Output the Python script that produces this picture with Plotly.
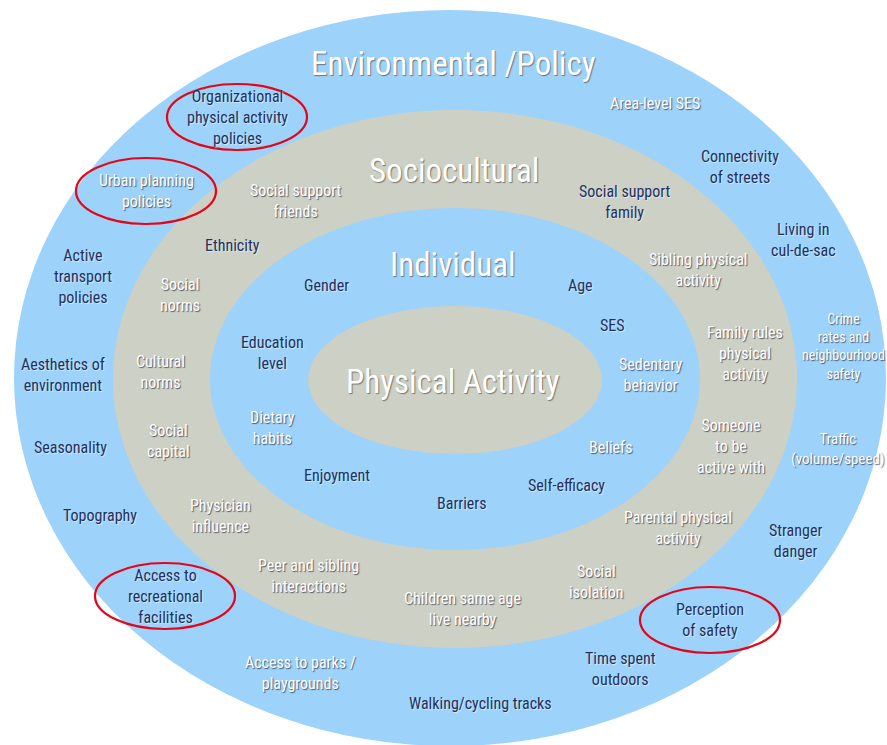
import plotly.graph_objects as go

# ---------------- data ----------------
ring_names = ["Environmental /Policy", "Sociocultural", "Individual", "Physical Activity"]

env_labels = [
    "Organizational<br>physical activity<br>policies", "Area-level SES", "Connectivity<br>of streets",
    "Living in<br>cul-de-sac", "Crime<br>rates and<br>neighbourhood<br>safety", "Traffic<br>(volume/speed)",
    "Stranger<br>danger", "Perception<br>of safety", "Time spent<br>outdoors", "Walking/cycling tracks",
    "Access to parks /<br>playgrounds", "Access to<br>recreational<br>facilities", "Topography",
    "Seasonality", "Aesthetics of<br>environment", "Active<br>transport<br>policies",
    "Urban planning<br>policies",
]
soc_labels = [
    "Social support<br>friends", "Social support<br>family", "Sibling physical<br>activity",
    "Family rules<br>physical<br>activity", "Someone<br>to be<br>active with",
    "Parental physical<br>activity", "Social<br>isolation", "Children same age<br>live nearby",
    "Peer and sibling<br>interactions", "Physician<br>influence", "Social<br>capital",
    "Cultural<br>norms", "Social<br>norms", "Ethnicity",
]
ind_labels = [
    "Gender", "Age", "SES", "Sedentary<br>behavior", "Beliefs", "Self-efficacy",
    "Barriers", "Enjoyment", "Dietary<br>habits", "Education<br>level",
]
highlighted = [
    "Organizational<br>physical activity<br>policies", "Urban planning<br>policies",
    "Access to<br>recreational<br>facilities", "Perception<br>of safety",
]

# ---------------- layout (positions / styles) ----------------
W, H = 887, 745
# ellipses: (cx, cy, rx, ry, colour)
rings_geom = [
    (450, 378, 436, 368, "#9DD2FA"),
    (455, 379, 342, 269, "#CDD0C4"),
    (455, 379, 245, 171, "#9DD2FA"),
    (455, 380, 147, 74, "#CDD0C4"),
]
title_pos = [(453, 63, 33), (454, 170, 33), (453, 264, 33), (453, 381, 33)]

env_pos = [(237, 117), (655, 103), (740, 167), (803, 240), (843, 346), (838, 449),
           (795, 541), (710, 620), (620, 669), (480, 703), (300, 673), (165, 596),
           (100, 515), (70, 447), (63, 375), (83, 276), (146, 191)]
soc_pos = [(296, 201), (625, 202), (698, 270), (745, 353), (731, 446), (678, 528),
           (596, 582), (462, 609), (308, 576), (220, 516), (168, 441), (160, 372),
           (180, 295), (232, 245)]
ind_pos = [(326, 285), (580, 285), (612, 325), (650, 375), (610, 447), (566, 485),
           (462, 503), (337, 475), (272, 428), (272, 353)]

DARK = "#1E3160"
WHITE = "white"
env_col = [DARK, WHITE, DARK, DARK, WHITE, WHITE, DARK, DARK, DARK, DARK, WHITE, DARK,
           DARK, DARK, DARK, DARK, WHITE]
soc_col = [WHITE, DARK, WHITE, WHITE, WHITE, WHITE, WHITE, WHITE, WHITE, WHITE, WHITE,
           WHITE, WHITE, DARK]
ind_col = [DARK, DARK, DARK, WHITE, WHITE, DARK, DARK, DARK, WHITE, DARK]
label_size = 16
env_size = [label_size] * len(env_labels)
env_size[4] = 14   # crime rates label near the edge
env_size[5] = 15

FONT = "Liberation Sans Narrow, Arial Narrow, Roboto Condensed, Roboto, sans-serif"

fig = go.Figure()
shapes = []
for cx, cy, rx, ry, col in rings_geom:
    shapes.append(dict(type="circle", xref="x", yref="y", x0=cx - rx, x1=cx + rx,
                       y0=cy - ry, y1=cy + ry, fillcolor=col, line=dict(width=0),
                       layer="below"))

annotations = []
for name, (x, y, s) in zip(ring_names, title_pos):
    annotations.append(dict(x=x, y=y, xref="x", yref="y", text=name, showarrow=False,
                            font=dict(family=FONT, size=s, color="white",
                                      shadow="1px 1px 1px rgba(60,60,60,0.6)")))

label_pos = {}
groups = [(env_labels, env_pos, env_col, env_size),
          (soc_labels, soc_pos, soc_col, [label_size] * len(soc_labels)),
          (ind_labels, ind_pos, ind_col, [label_size] * len(ind_labels))]
for labels, pos, cols, sizes in groups:
    for t, (x, y), c, s in zip(labels, pos, cols, sizes):
        label_pos[t] = (x, y)
        shadow = "1px 1px 1px rgba(40,40,60,0.7)" if c == WHITE else "1px 1px 1px rgba(255,255,255,0.6)"
        annotations.append(dict(x=x, y=y, xref="x", yref="y", text=t, showarrow=False,
                                align="center",
                                font=dict(family=FONT, size=s, color=c, shadow=shadow)))

# red highlight ellipses around selected labels
for t in highlighted:
    x, y = label_pos[t]
    shapes.append(dict(type="circle", xref="x", yref="y", x0=x - 70, x1=x + 70,
                       y0=y - 33, y1=y + 33, fillcolor="rgba(0,0,0,0)",
                       line=dict(color="#E3061A", width=2.2), layer="above"))

fig.update_layout(
    width=W, height=H, margin=dict(l=0, r=0, t=0, b=0),
    paper_bgcolor="white", plot_bgcolor="white",
    xaxis=dict(range=[0, W], visible=False, fixedrange=True),
    yaxis=dict(range=[H, 0], visible=False, fixedrange=True),
    shapes=shapes, annotations=annotations, showlegend=False,
)
fig.write_html("out.html", config={"displayModeBar": False},
               post_script="document.body.style.margin='0';document.body.style.overflow='hidden';")
